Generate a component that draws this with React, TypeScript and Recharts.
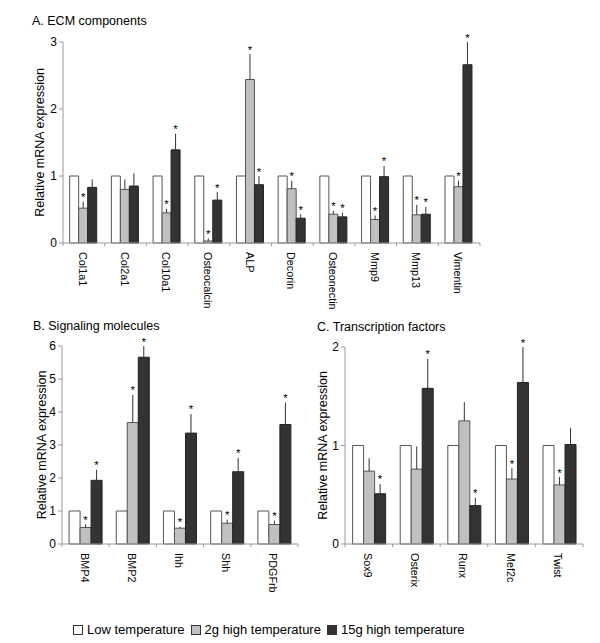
import React from 'react';
import { BarChart, Bar, XAxis, YAxis, ErrorBar, LabelList, Label } from 'recharts';

const FONT = '"Liberation Sans", Arial, Helvetica, sans-serif';
const AXIS = '#9a9a9a';

// ---- Panel A: ECM components ----
const ecmCategories = ['Col1a1', 'Col2a1', 'Col10a1', 'Osteocalcin', 'ALP', 'Decorin', 'Osteonectin', 'Mmp9', 'Mmp13', 'Vimentin'];
const ecmLow = [1, 1, 1, 1, 1, 1, 1, 1, 1, 1];
const ecmMid = [0.52, 0.8, 0.45, 0.03, 2.44, 0.81, 0.43, 0.35, 0.42, 0.84];
const ecmMidTop = [0.62, 0.95, 0.51, 0.07, 2.82, 0.93, 0.48, 0.41, 0.57, 0.93];
const ecmMidSig = [1, 0, 1, 1, 1, 1, 1, 1, 1, 1];
const ecmHigh = [0.83, 0.85, 1.39, 0.64, 0.87, 0.37, 0.39, 0.99, 0.43, 2.66];
const ecmHighTop = [0.95, 1.04, 1.63, 0.76, 1.0, 0.43, 0.45, 1.15, 0.54, 3.0];
const ecmHighSig = [0, 0, 1, 1, 1, 1, 1, 1, 1, 1];
const ecmTicks = [0, 1, 2, 3];

// ---- Panel B: Signaling molecules ----
const sigCategories = ['BMP4', 'BMP2', 'Ihh', 'Shh', 'PDGFrb'];
const sigLow = [1, 1, 1, 1, 1];
const sigMid = [0.5, 3.68, 0.48, 0.63, 0.59];
const sigMidTop = [0.6, 4.52, 0.52, 0.74, 0.71];
const sigMidSig = [1, 1, 1, 1, 1];
const sigHigh = [1.93, 5.66, 3.36, 2.19, 3.62];
const sigHighTop = [2.25, 6.0, 3.94, 2.61, 4.28];
const sigHighSig = [1, 1, 1, 1, 1];
const sigTicks = [0, 1, 2, 3, 4, 5, 6];

// ---- Panel C: Transcription factors ----
const tfCategories = ['Sox9', 'Osterix', 'Runx', 'Mef2c', 'Twist'];
const tfLow = [1, 1, 1, 1, 1];
const tfMid = [0.74, 0.76, 1.25, 0.66, 0.6];
const tfMidTop = [0.87, 0.99, 1.44, 0.77, 0.68];
const tfMidSig = [0, 0, 0, 1, 1];
const tfHigh = [0.51, 1.58, 0.39, 1.64, 1.01];
const tfHighTop = [0.61, 1.88, 0.47, 2.0, 1.18];
const tfHighSig = [1, 1, 1, 1, 0];
const tfTicks = [0, 1, 2];

const seriesNames = ['Low temperature', '2g high temperature', '15g high temperature'];
const seriesFills = ['#ffffff', '#c0c0c0', '#333333'];

function buildRows(
  cats: string[], low: number[], mid: number[], midTop: number[], midSig: number[],
  high: number[], highTop: number[], highSig: number[]
) {
  return cats.map((name, i) => ({
    name,
    low: low[i],
    mid: mid[i],
    high: high[i],
    midErr: [0, Math.max(0, midTop[i] - mid[i])],
    highErr: [0, Math.max(0, highTop[i] - high[i])],
    midStar: midSig[i] ? midTop[i] / mid[i] : null,
    highStar: highSig[i] ? highTop[i] / high[i] : null,
  }));
}

const ecmRows = buildRows(ecmCategories, ecmLow, ecmMid, ecmMidTop, ecmMidSig, ecmHigh, ecmHighTop, ecmHighSig);
const sigRows = buildRows(sigCategories, sigLow, sigMid, sigMidTop, sigMidSig, sigHigh, sigHighTop, sigHighSig);
const tfRows = buildRows(tfCategories, tfLow, tfMid, tfMidTop, tfMidSig, tfHigh, tfHighTop, tfHighSig);

const StarLabel = (props: any) => {
  const ratio = props.value;
  if (ratio == null || !isFinite(ratio)) return null;
  const vb = props.viewBox && props.viewBox.width != null ? props.viewBox : props;
  const { x, y, width, height } = vb;
  const bottom = y + height;
  const top = bottom - height * ratio;
  return (
    <text x={x + width / 2} y={top - 0.5} textAnchor="middle" fontSize={11.5} fontFamily={FONT} fill="#000">
      *
    </text>
  );
};

const CatTick = (props: any) => {
  const { x, y, payload, index, band, count } = props;
  return (
    <g>
      <line x1={x - band / 2} x2={x - band / 2} y1={y} y2={y + 3} stroke={AXIS} />
      {index === count - 1 && <line x1={x + band / 2} x2={x + band / 2} y1={y} y2={y + 3} stroke={AXIS} />}
      <text
        transform={`translate(${x - 1},${y + 9}) rotate(90)`}
        textAnchor="start"
        dominantBaseline="central"
        fontSize={10.8}
        fontFamily={FONT}
        fill="#000"
      >
        {payload.value}
      </text>
    </g>
  );
};

type PanelProps = {
  rows: any[];
  width: number;
  height: number;
  margin: { top: number; right: number; bottom: number; left: number };
  yWidth: number;
  xHeight: number;
  ticks: number[];
  gap: string;
  labelX: number;
};

function Panel({ rows, width, height, margin, yWidth, xHeight, ticks, gap, labelX }: PanelProps) {
  const plotWidth = width - margin.left - margin.right - yWidth;
  const band = plotWidth / rows.length;
  const maxTick = ticks[ticks.length - 1];
  return (
    <BarChart width={width} height={height} data={rows} margin={margin} barCategoryGap={gap} barGap={0}>
      <XAxis
        dataKey="name"
        axisLine={{ stroke: AXIS }}
        tickLine={false}
        tickSize={0}
        tickMargin={0}
        height={xHeight}
        interval={0}
        tick={(p: any) => <CatTick {...p} band={band} count={rows.length} />}
      />
      <YAxis
        width={yWidth}
        domain={[0, maxTick]}
        ticks={ticks}
        interval={0}
        axisLine={{ stroke: AXIS }}
        tickLine={{ stroke: AXIS }}
        tickSize={4}
        tickMargin={2}
        tick={{ fontSize: 12, fontFamily: FONT, fill: '#000' }}
      >
        <Label
          content={(p: any) => {
            const vb = p.viewBox;
            const cx = vb.x + labelX;
            const cy = vb.y + vb.height / 2;
            return (
              <text
                x={cx}
                y={cy}
                transform={`rotate(-90, ${cx}, ${cy})`}
                textAnchor="middle"
                dominantBaseline="central"
                fontSize={12.5}
                fontFamily={FONT}
                fill="#000"
              >
                Relative mRNA expression
              </text>
            );
          }}
        />
      </YAxis>
      <Bar dataKey="low" name={seriesNames[0]} fill={seriesFills[0]} stroke="#555" isAnimationActive={false} />
      <Bar dataKey="mid" name={seriesNames[1]} fill={seriesFills[1]} stroke="#555" isAnimationActive={false}>
        <ErrorBar dataKey="midErr" direction="y" width={0} stroke="#333" strokeWidth={1} />
        <LabelList dataKey="midStar" content={StarLabel} />
      </Bar>
      <Bar dataKey="high" name={seriesNames[2]} fill={seriesFills[2]} stroke="#222" isAnimationActive={false}>
        <ErrorBar dataKey="highErr" direction="y" width={0} stroke="#333" strokeWidth={1} />
        <LabelList dataKey="highStar" content={StarLabel} />
      </Bar>
    </BarChart>
  );
}

const titleStyle: React.CSSProperties = {
  position: 'absolute',
  fontFamily: FONT,
  fontSize: 12.5,
  lineHeight: '14px',
  color: '#000',
  whiteSpace: 'nowrap',
};

export default function App() {
  return (
    <div style={{ position: 'absolute', left: 0, top: 0, width: 600, height: 643, background: '#fff', overflow: 'hidden' }}>
      <div style={{ ...titleStyle, left: 32, top: 14 }}>A. ECM components</div>
      <div style={{ ...titleStyle, left: 33, top: 319 }}>B. Signaling molecules</div>
      <div style={{ ...titleStyle, left: 317, top: 320 }}>C. Transcription factors</div>

      <div style={{ position: 'absolute', left: 0, top: 0 }}>
        <Panel
          rows={ecmRows}
          width={500}
          height={310}
          margin={{ top: 42, right: 20, bottom: 7, left: 0 }}
          yWidth={63}
          xHeight={60}
          ticks={ecmTicks}
          gap="16%"
          labelX={40}
        />
      </div>
      <div style={{ position: 'absolute', left: 0, top: 300 }}>
        <Panel
          rows={sigRows}
          width={310}
          height={300}
          margin={{ top: 46, right: 12, bottom: 6, left: 0 }}
          yWidth={62}
          xHeight={50}
          ticks={sigTicks}
          gap="15%"
          labelX={42}
        />
      </div>
      <div style={{ position: 'absolute', left: 290, top: 300 }}>
        <Panel
          rows={tfRows}
          width={310}
          height={300}
          margin={{ top: 47, right: 17, bottom: 6, left: 0 }}
          yWidth={55}
          xHeight={50}
          ticks={tfTicks}
          gap="16%"
          labelX={33}
        />
      </div>

      <div
        style={{
          position: 'absolute',
          left: 73,
          top: 622,
          display: 'flex',
          alignItems: 'center',
          fontFamily: FONT,
          fontSize: 13,
          lineHeight: '15px',
          whiteSpace: 'nowrap',
          color: '#000',
        }}
      >
        {seriesNames.map((n, i) => (
          <span key={n} style={{ display: 'inline-flex', alignItems: 'center', marginRight: 6 }}>
            <span
              style={{
                display: 'inline-block',
                width: 8,
                height: 8,
                background: seriesFills[i],
                border: '1px solid #333',
                marginRight: 4,
              }}
            />
            {n}
          </span>
        ))}
      </div>
    </div>
  );
}
